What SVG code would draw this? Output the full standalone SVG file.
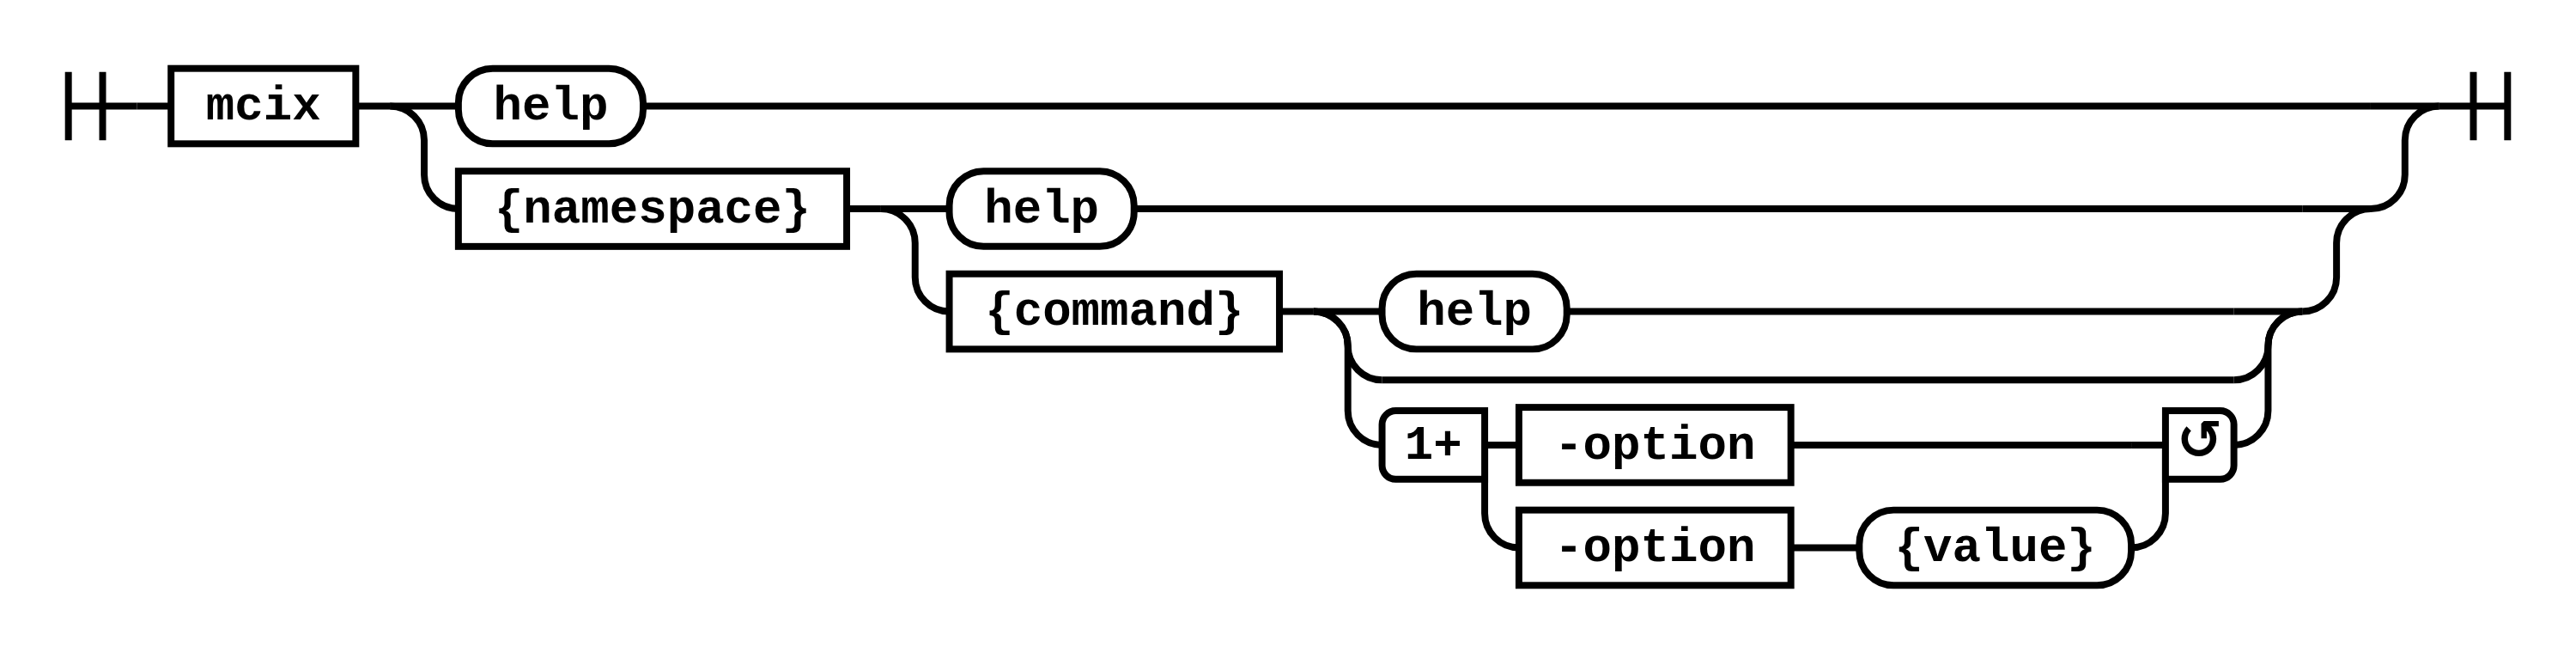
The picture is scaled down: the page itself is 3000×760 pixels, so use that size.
<svg xmlns="http://www.w3.org/2000/svg" width="3000" height="760" viewBox="0 0 3000 760">
<style>
  .c path { fill: none; stroke: #000; stroke-width: 2; }
  .n rect, .n path { fill: #fff; stroke: #000; stroke-width: 2; }
  .n text { font-family: "Liberation Mono", "Courier New", monospace; font-weight: bold; font-size: 14px; text-anchor: middle; fill: #000; }
  .n text.arrow { font-size: 16px; font-family: "DejaVu Sans", "Liberation Mono", monospace; }
</style>
<rect x="0" y="0" width="3000" height="760" fill="#fff"/>
<g transform="scale(3.98406)">
  <g id="connectors" class="c">
    <path d="M20 21 v20 m10 -20 v20 m-10 -10 h20"/>
    <path d="M40 31 h10"/>
    <path d="M104 31 h10"/>
    <path d="M114 31 h20"/>
    <path d="M188 31 h505"/>
    <path d="M693 31 h20"/>
    <path d="M114 31 a10 10 0 0 1 10 10 v10 a10 10 0 0 0 10 10"/>
    <path d="M693 61 a10 10 0 0 0 10 -10 v-10 a10 10 0 0 1 10 -10"/>
    <path d="M713 31 h20 m-10 -10 v20 m10 -20 v20"/>
    <path d="M247.5 61 h10"/>
    <path d="M257.5 61 h20"/>
    <path d="M331.5 61 h341.5"/>
    <path d="M673 61 h20"/>
    <path d="M257.5 61 a10 10 0 0 1 10 10 v10 a10 10 0 0 0 10 10"/>
    <path d="M673 91 a10 10 0 0 0 10 -10 v-10 a10 10 0 0 1 10 -10"/>
    <path d="M374 91 h10"/>
    <path d="M384 91 h20"/>
    <path d="M458 91 h195"/>
    <path d="M653 91 h20"/>
    <path d="M384 91 a10 10 0 0 1 10 10 a10 10 0 0 0 10 10"/>
    <path d="M404 111 h249"/>
    <path d="M653 111 a10 10 0 0 0 10 -10 a10 10 0 0 1 10 -10"/>
    <path d="M384 91 a10 10 0 0 1 10 10 v19 a10 10 0 0 0 10 10"/>
    <path d="M653 130 a10 10 0 0 0 10 -10 v-19 a10 10 0 0 1 10 -10"/>
    <path d="M434 130 h10"/>
    <path d="M523.5 130 h99.5"/>
    <path d="M623 130 h10"/>
    <path d="M434 130 v20 a10 10 0 0 0 10 10"/>
    <path d="M523.5 160 h20"/>
    <path d="M623 160 a10 10 0 0 0 10 -10 v-20"/>
  </g>
  <g id="node-mcix" class="n">
    <rect x="50" y="20" width="54" height="22"/>
    <text x="77" y="35">mcix</text>
  </g>
  <g id="node-help1" class="n">
    <rect x="134" y="20" width="54" height="22" rx="10" ry="10"/>
    <text x="161" y="35">help</text>
  </g>
  <g id="node-namespace" class="n">
    <rect x="134" y="50" width="113.5" height="22"/>
    <text x="190.75" y="65">{namespace}</text>
  </g>
  <g id="node-help2" class="n">
    <rect x="277.5" y="50" width="54" height="22" rx="10" ry="10"/>
    <text x="304.5" y="65">help</text>
  </g>
  <g id="node-command" class="n">
    <rect x="277.5" y="80" width="96.5" height="22"/>
    <text x="325.75" y="95">{command}</text>
  </g>
  <g id="node-help3" class="n">
    <rect x="404" y="80" width="54" height="22" rx="10" ry="10"/>
    <text x="431" y="95">help</text>
  </g>
  <g id="node-oneplus" class="n">
    <path d="M434 120 h-26 a4 4 0 0 0 -4 4 v12 a4 4 0 0 0 4 4 h26 z"/>
    <text x="419" y="134">1+</text>
  </g>
  <g id="node-option1" class="n">
    <rect x="444" y="119" width="79.5" height="22"/>
    <text x="483.75" y="134">-option</text>
  </g>
  <g id="node-option2" class="n">
    <rect x="444" y="149" width="79.5" height="22"/>
    <text x="483.75" y="164">-option</text>
  </g>
  <g id="node-value" class="n">
    <rect x="543.5" y="149" width="79.5" height="22" rx="10" ry="10"/>
    <text x="583.25" y="164">{value}</text>
  </g>
  <g id="node-repeat" class="n">
    <path d="M633 120 h16 a4 4 0 0 1 4 4 v12 a4 4 0 0 1 -4 4 h-16 z"/>
    <text class="arrow" x="643" y="134">↺</text>
  </g>
</g>
</svg>
